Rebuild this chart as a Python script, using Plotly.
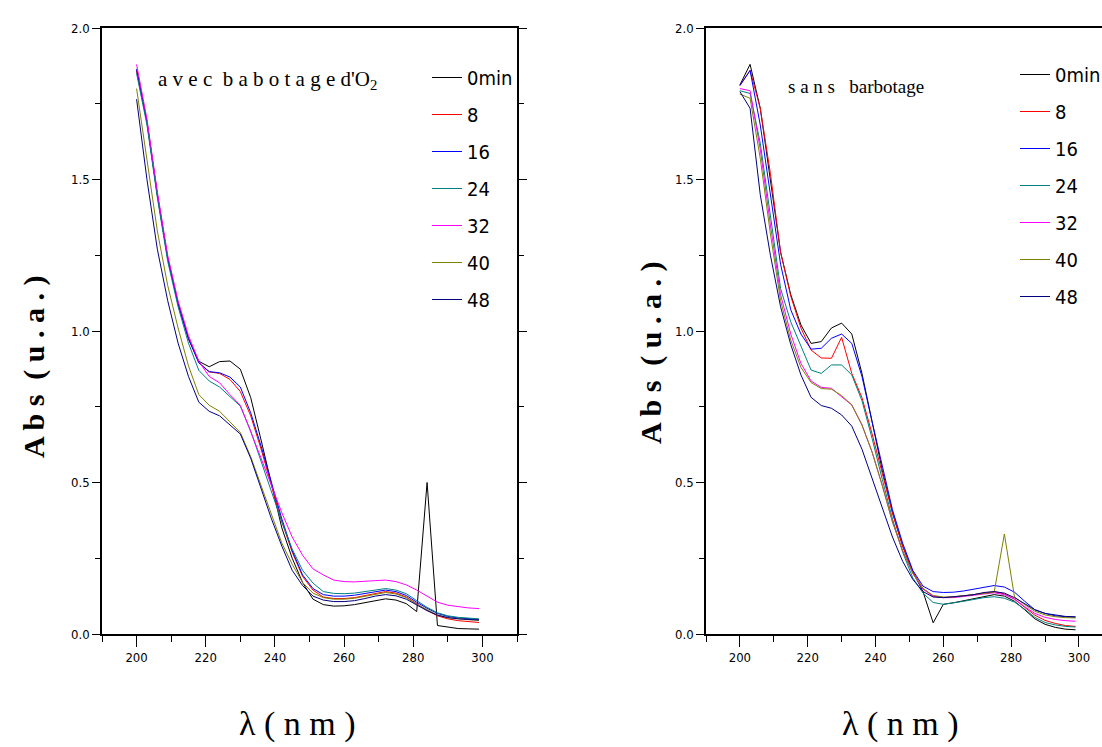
import plotly.graph_objects as go

W, H = 1102, 747

wavelength = [200, 203, 206, 209, 212, 215, 218, 221, 224, 227, 230, 233, 236, 239, 242, 245, 248,
              251, 254, 257, 260, 263, 266, 269, 272, 275, 278, 281, 284, 287, 290, 293, 296, 299]

series_names = ["0min", "8", "16", "24", "32", "40", "48"]
series_colors = ["#000000", "#ff0000", "#0000ff", "#008080", "#ff00ff", "#808000", "#000080"]

# --- left panel : avec barbotage d'O2 ---
left_0 = [1.86, 1.69, 1.45, 1.24, 1.09, 0.975, 0.90, 0.882, 0.899, 0.901, 0.874, 0.78, 0.64, 0.49, 0.35, 0.25, 0.17,
          0.115, 0.097, 0.092, 0.093, 0.097, 0.104, 0.111, 0.116, 0.112, 0.100, 0.074, 0.50, 0.028, 0.022, 0.018, 0.017, 0.016]
left_8 = [1.86, 1.69, 1.45, 1.24, 1.09, 0.975, 0.895, 0.865, 0.86, 0.84, 0.80, 0.72, 0.61, 0.49, 0.37, 0.27, 0.19,
          0.145, 0.122, 0.117, 0.117, 0.12, 0.127, 0.135, 0.14, 0.135, 0.122, 0.10, 0.078, 0.06, 0.05, 0.044, 0.04, 0.038]
left_16 = [1.865, 1.69, 1.45, 1.24, 1.09, 0.975, 0.895, 0.866, 0.862, 0.848, 0.815, 0.73, 0.62, 0.50, 0.38, 0.275, 0.195,
           0.15, 0.13, 0.125, 0.125, 0.128, 0.133, 0.14, 0.145, 0.14, 0.127, 0.105, 0.085, 0.068, 0.058, 0.053, 0.05, 0.048]
left_24 = [1.85, 1.68, 1.44, 1.23, 1.08, 0.96, 0.87, 0.835, 0.815, 0.783, 0.752, 0.67, 0.57, 0.47, 0.37, 0.28, 0.21,
           0.168, 0.14, 0.134, 0.133, 0.135, 0.14, 0.146, 0.15, 0.145, 0.133, 0.11, 0.088, 0.07, 0.06, 0.055, 0.052, 0.05]
left_32 = [1.88, 1.70, 1.46, 1.25, 1.10, 0.985, 0.90, 0.85, 0.829, 0.79, 0.755, 0.67, 0.58, 0.49, 0.40, 0.32, 0.26,
           0.215, 0.195, 0.178, 0.173, 0.172, 0.173, 0.176, 0.178, 0.173, 0.162, 0.145, 0.125, 0.105, 0.095, 0.09, 0.086, 0.084]
left_40 = [1.80, 1.56, 1.33, 1.15, 1.01, 0.885, 0.79, 0.755, 0.735, 0.70, 0.665, 0.585, 0.49, 0.39, 0.30, 0.23, 0.17,
           0.135, 0.12, 0.115, 0.115, 0.118, 0.124, 0.132, 0.137, 0.132, 0.12, 0.098, 0.08, 0.063, 0.054, 0.05, 0.047, 0.045]
left_48 = [1.765, 1.50, 1.27, 1.10, 0.96, 0.85, 0.765, 0.735, 0.72, 0.69, 0.66, 0.58, 0.48, 0.38, 0.29, 0.21, 0.16,
           0.125, 0.112, 0.107, 0.107, 0.11, 0.117, 0.125, 0.13, 0.126, 0.115, 0.095, 0.077, 0.062, 0.054, 0.05, 0.048, 0.046]

# --- right panel : sans barbotage ---
right_0 = [1.812, 1.88, 1.735, 1.50, 1.26, 1.12, 1.02, 0.959, 0.965, 1.01, 1.026, 0.99, 0.86, 0.70, 0.54, 0.40, 0.29,
           0.205, 0.14, 0.037, 0.098, 0.103, 0.11, 0.118, 0.125, 0.13, 0.125, 0.108, 0.08, 0.05, 0.032, 0.022, 0.016, 0.014]
right_8 = [1.81, 1.86, 1.735, 1.52, 1.26, 1.115, 1.01, 0.937, 0.911, 0.91, 0.979, 0.86, 0.78, 0.66, 0.53, 0.40, 0.29,
           0.205, 0.15, 0.125, 0.12, 0.122, 0.126, 0.13, 0.136, 0.14, 0.132, 0.115, 0.088, 0.062, 0.045, 0.035, 0.028, 0.025]
right_16 = [1.81, 1.86, 1.68, 1.45, 1.22, 1.07, 0.99, 0.94, 0.943, 0.976, 0.99, 0.959, 0.85, 0.70, 0.55, 0.41, 0.30,
            0.21, 0.158, 0.14, 0.137, 0.138, 0.142, 0.148, 0.155, 0.16, 0.155, 0.138, 0.108, 0.08, 0.068, 0.06, 0.057, 0.055]
right_24 = [1.793, 1.784, 1.62, 1.38, 1.14, 1.03, 0.948, 0.871, 0.86, 0.888, 0.888, 0.855, 0.77, 0.645, 0.51, 0.38, 0.27,
            0.185, 0.135, 0.104, 0.098, 0.102, 0.108, 0.114, 0.12, 0.123, 0.118, 0.105, 0.082, 0.055, 0.038, 0.03, 0.025, 0.023]
right_32 = [1.80, 1.793, 1.60, 1.35, 1.12, 0.99, 0.893, 0.835, 0.814, 0.811, 0.783, 0.756, 0.69, 0.60, 0.49, 0.37, 0.275,
            0.20, 0.148, 0.125, 0.12, 0.12, 0.124, 0.128, 0.133, 0.136, 0.13, 0.115, 0.09, 0.068, 0.055, 0.048, 0.044, 0.042]
right_40 = [1.782, 1.768, 1.57, 1.32, 1.10, 0.97, 0.88, 0.83, 0.81, 0.808, 0.787, 0.756, 0.69, 0.60, 0.49, 0.37, 0.275,
            0.20, 0.15, 0.127, 0.122, 0.122, 0.126, 0.13, 0.135, 0.138, 0.33, 0.122, 0.097, 0.075, 0.063, 0.057, 0.054, 0.053]
right_48 = [1.79, 1.735, 1.45, 1.25, 1.08, 0.955, 0.855, 0.781, 0.754, 0.745, 0.723, 0.686, 0.61, 0.515, 0.42, 0.32, 0.24,
            0.18, 0.14, 0.122, 0.12, 0.122, 0.126, 0.13, 0.137, 0.14, 0.135, 0.12, 0.10, 0.08, 0.068, 0.062, 0.058, 0.057]

left_series = [left_0, left_8, left_16, left_24, left_32, left_40, left_48]
right_series = [right_0, right_8, right_16, right_24, right_32, right_40, right_48]

x_ticks = [200, 220, 240, 260, 280, 300]
y_ticks = [0.0, 0.5, 1.0, 1.5, 2.0]

left_title = "a v e c  b a b o t a g e d'O<sub>2</sub>"
right_title = "s a n s   barbotage"
y_title = "<b>A b s  ( u . a . )</b>"
x_title = "λ ( n m )"

narrow = "Liberation Sans Narrow, DejaVu Sans Condensed, Arial Narrow, sans-serif"
serif = "Liberation Serif, Times New Roman, serif"

# plot area in pixels: top 28, bottom 634
TOP, BOT = 28, 634


def py(ypx):
    return 1 - (ypx - TOP) / (BOT - TOP)


fig = go.Figure()
for i, (name, color) in enumerate(zip(series_names, series_colors)):
    fig.add_trace(go.Scatter(x=wavelength, y=left_series[i], mode="lines", name=name,
                             line=dict(color=color, width=1), xaxis="x", yaxis="y",
                             legend="legend", legendgroup="L" + name))
for i, (name, color) in enumerate(zip(series_names, series_colors)):
    fig.add_trace(go.Scatter(x=wavelength, y=right_series[i], mode="lines", name=name,
                             line=dict(color=color, width=1), xaxis="x2", yaxis="y2",
                             legend="legend2", legendgroup="R" + name))


def xaxis(domain, rng, anchor):
    return dict(domain=domain, range=rng, anchor=anchor, tickmode="array", tickvals=x_ticks,
                ticks="outside", ticklen=11, tickwidth=1, tickcolor="black",
                minor=dict(dtick=10, tick0=190, ticklen=6, ticks="outside", tickcolor="black"),
                showline=True, linecolor="black", linewidth=1.6, mirror=True,
                showgrid=False, zeroline=False, automargin=False,
                tickfont=dict(family=narrow, size=13, color="black"))


def yaxis(anchor, mirror):
    return dict(range=[0, 2.0], domain=[0, 1], anchor=anchor, tickmode="array", tickvals=y_ticks,
                tickformat=".1f",
                ticks="outside", ticklen=8, tickwidth=1, tickcolor="black",
                minor=dict(dtick=0.25, tick0=0, ticklen=5, ticks="outside", tickcolor="black"),
                showline=True, linecolor="black", linewidth=1.6, mirror=mirror,
                showgrid=False, zeroline=False, automargin=False,
                tickfont=dict(family=narrow, size=13, color="black"))


legend_common = dict(font=dict(family=narrow, size=20, color="black"), bgcolor="rgba(0,0,0,0)",
                     borderwidth=0, tracegroupgap=8, xref="paper", yref="paper",
                     xanchor="left", yanchor="top", itemwidth=30, traceorder="grouped")


def text_ann(text, xpx, ypx, size, angle=0, anchor="center"):
    return dict(text=text, x=xpx / W, y=py(ypx), xref="paper", yref="paper", showarrow=False,
                xanchor=anchor, yanchor="middle", textangle=angle,
                font=dict(family=serif, size=size, color="black"))


fig.update_layout(
    width=W, height=H,
    margin=dict(l=0, r=0, t=TOP, b=H - BOT, autoexpand=False),
    paper_bgcolor="white", plot_bgcolor="white",
    xaxis=xaxis([102 / W, 517 / W], [190, 310], "y"),
    yaxis=yaxis("x", "ticks"),
    xaxis2=xaxis([706 / W, 1.0], [190, 306.8], "y2"),
    yaxis2=yaxis("x2", False),
    legend=dict(x=427 / W, y=py(58), **legend_common),
    legend2=dict(x=1015 / W, y=py(55), **legend_common),
    annotations=[
        text_ann(left_title, 156, 80, 21, anchor="left"),
        text_ann(right_title, 786, 86, 19, anchor="left"),
        text_ann(y_title, 34, 367, 30, angle=-90),
        text_ann(y_title, 651, 353, 30, angle=-90),
        text_ann(x_title, 297, 724, 34),
        text_ann(x_title, 900, 724, 34),
    ],
)

fig.write_html("out.html")
